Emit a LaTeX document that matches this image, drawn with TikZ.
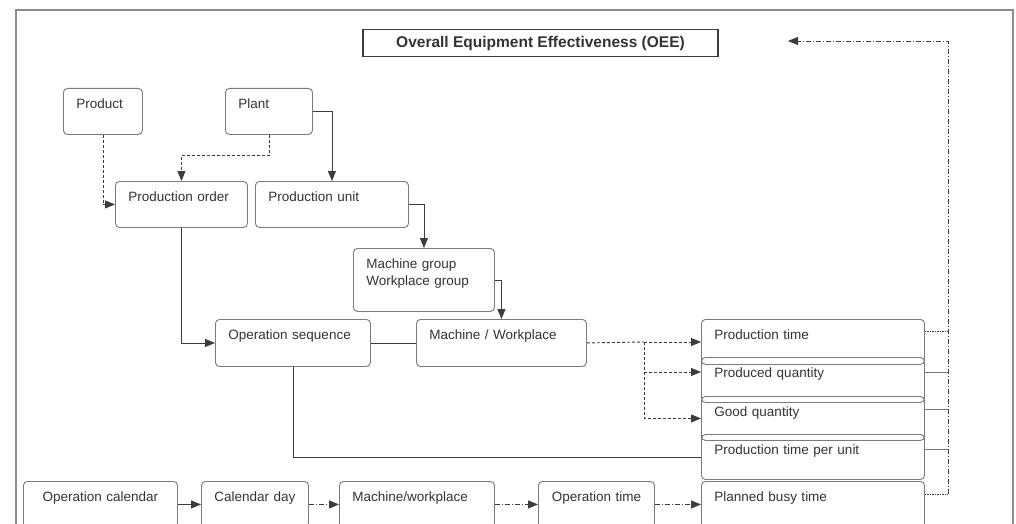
\documentclass[tikz,border=0pt]{standalone}
\usepackage{fontspec}
\setmainfont{Liberation Sans}
\usetikzlibrary{arrows.meta}
\definecolor{frame}{HTML}{8C8C8C}
\definecolor{boxline}{HTML}{7A7A7A}
\definecolor{wire}{HTML}{3C3C3C}
\definecolor{ink}{HTML}{333333}
\begin{document}
\begin{tikzpicture}[x=1pt,y=-1pt,
  % box of width #1 and height #2, text padded 13pt from the left edge
  sz/.code 2 args={%
    \pgfmathsetlengthmacro\bw{#1}%
    \pgfmathsetlengthmacro\bt{#1-26}%
    \pgfmathsetlengthmacro\bd{#2-20}%
    \edef\next{\noexpand\pgfkeysalso{minimum width=\bw, text width=\bt, text depth=\bd}}\next},
  % box of width #1 and height #2, text centred with narrow padding
  csz/.code 2 args={%
    \pgfmathsetlengthmacro\bw{#1}%
    \pgfmathsetlengthmacro\bt{#1-8}%
    \pgfmathsetlengthmacro\bd{#2-20}%
    \edef\next{\noexpand\pgfkeysalso{minimum width=\bw, text width=\bt, text depth=\bd,
      inner xsep=4pt, align=center}}\next},
  ebox/.style={draw=boxline, line width=0.9pt, rounded corners=4pt, anchor=north west,
    inner xsep=13pt, inner ysep=0pt, text height=20pt, minimum height=0pt, align=left,
    text=ink, font=\fontsize{13.5}{17}\selectfont},
  titlebox/.style={draw=wire, line width=1.6pt, minimum width=355pt, minimum height=27pt,
    inner sep=0pt, text=ink, font=\bfseries\fontsize{15.5}{18}\selectfont},
  wireline/.style={draw=wire, line width=0.9pt},
  arr/.style={-{Triangle[length=10pt,width=8pt]}},
  dashline/.style={wireline, dash pattern=on 3pt off 2pt},
  dashdotline/.style={wireline, dash pattern=on 5pt off 2pt on 1pt off 2pt},
  dotline/.style={wireline, dash pattern=on 1.5pt off 1pt},
  stub/.style={wireline, draw=wire!70}]
\useasboundingbox (0,0) rectangle (1016,524);
\clip (0,0) rectangle (1016,524);
\fill[white] (0,0) rectangle (1016,524);
% outer frame
\draw[frame, line width=1.6pt] (16,540) -- (16,10) -- (1013,10) -- (1013,540);

% title
\node[titlebox] (oee) at (540.5,43) {Overall Equipment Effectiveness (OEE)};

% master data
\node[ebox, sz={79}{46}]  (prod)  at (63,88)   {Product};
\node[ebox, sz={87}{46}]  (plant) at (225,88)  {Plant};
\node[ebox, sz={132}{46}] (po)    at (115,181) {Production order};
\node[ebox, sz={153}{46}] (pu)    at (255,181) {Production unit};
\node[ebox, sz={141}{63}] (mg)    at (353,248) {Machine group\\Workplace group};
\node[ebox, sz={155}{47}] (os)    at (215,319) {Operation sequence};
\node[ebox, sz={170}{47}] (mw)    at (416,319) {Machine / Workplace};

% key figures
\node[ebox, sz={223}{45}] (pt)  at (701,319) {Production time};
\node[ebox, sz={223}{45}] (pq)  at (701,357) {Produced quantity};
\node[ebox, sz={223}{44}] (gq)  at (701,396) {Good quantity};
\node[ebox, sz={223}{45}] (ptu) at (701,434) {Production time per unit};
\node[ebox, sz={223}{46}] (pbt) at (701,481) {Planned busy time};

% calendar chain
\node[ebox, csz={154}{46}] (oc)  at (23,481)  {Operation calendar};
\node[ebox, csz={107}{46}] (cd)  at (201,481) {Calendar day};
\node[ebox, sz={155}{46}]  (mwk) at (339,481) {Machine/workplace};
\node[ebox, csz={116}{46}] (ot)  at (538,481) {Operation time};

% connectors in the upper part
\draw[dashline, arr] (prod.south) |- (po.west);
\draw[dashline, arr] (plant.south) -- ++(0,21) -| (po.north);
\draw[wireline, arr] (plant.east) -| (pu.north);
\draw[wireline, arr] (pu.east) -| (mg.north);
\draw[wireline, arr] (po.south) |- (os.west);
\draw[wireline, arr] (mg.east) -| (mw.north);
\draw[wireline] (os.east) -- (mw.west);
\draw[wireline] (os.south) |- (ptu.west);

% machine to key figures
\coordinate (split) at (644,342);
\coordinate (pqin) at ([yshift=-15pt]pq.north west);
\draw[dashline] (mw.east) -- (split);
\draw[dashline, arr] (split) -- (split -| pt.west);
\draw[dashline, arr] (split) |- (pqin);
\draw[dashline, arr] (split) |- (gq.west);

% calendar chain arrows
\draw[wireline, arr] (oc.east) -- (cd.west);
\draw[dashdotline, arr] (cd.east) -- (mwk.west);
\draw[dashdotline, arr] (mwk.east) -- (ot.west);
\draw[dashdotline, arr] (ot.east) -- (pbt.west);

% feedback bus to the OEE title
\coordinate (bus) at (948,41);
\coordinate (bustip) at (788,41);
\coordinate (s1) at ([yshift=-12pt]pt.north east);
\coordinate (s2) at ([yshift=-15pt]pq.north east);
\coordinate (s3) at ([yshift=-13pt]gq.north east);
\coordinate (s4) at ([yshift=-15pt]ptu.north east);
\coordinate (s5) at ([yshift=-13pt]pbt.north east);
\draw[dotline] (s1) -- (s1 -| bus);
\draw[stub] (s2) -- (s2 -| bus);
\draw[stub] (s3) -- (s3 -| bus);
\draw[stub] (s4) -- (s4 -| bus);
\draw[dotline] (s5) -- (s5 -| bus);
\draw[dashdotline, arr] (s5 -| bus) -- (bus) -- (bustip);
\end{tikzpicture}
\end{document}
